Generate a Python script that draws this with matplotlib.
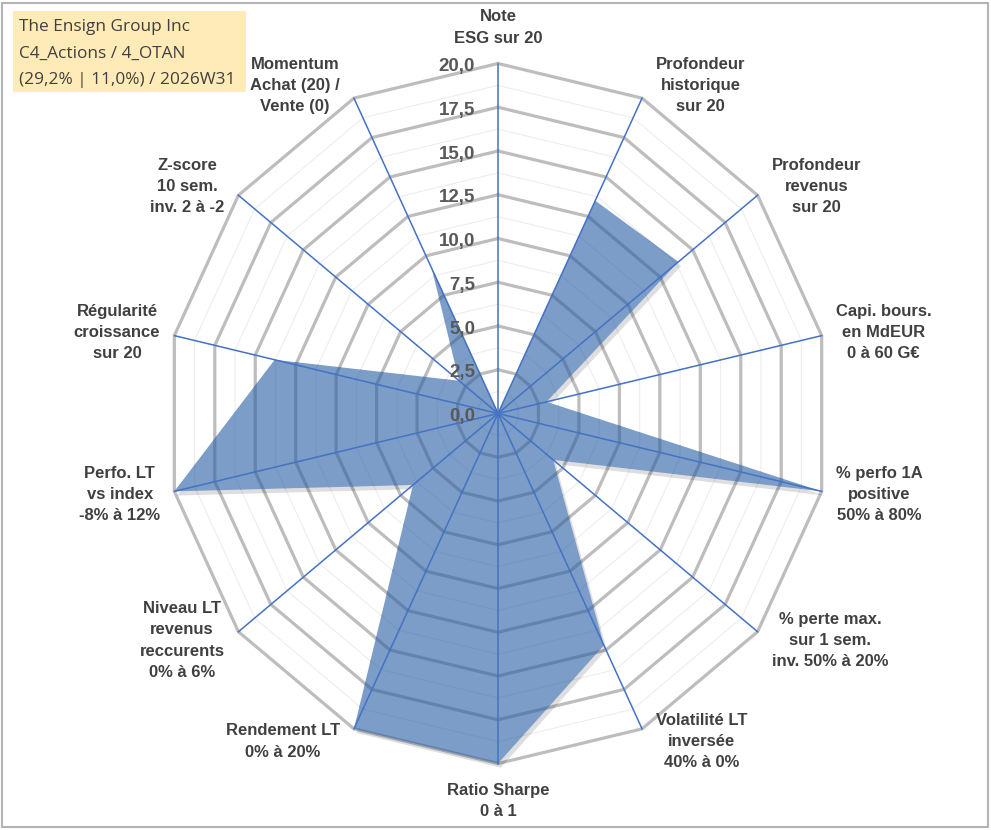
import numpy as np
import matplotlib
matplotlib.use("Agg")
import matplotlib.pyplot as plt
import matplotlib.patheffects as pe
from matplotlib.patches import Rectangle

# Chart data
categories = [
    "Note\nESG sur 20",
    "Profondeur\nhistorique\nsur 20",
    "Profondeur\nrevenus\nsur 20",
    "Capi. bours.\nen MdEUR\n0 à 60 G€",
    "% perfo 1A\npositive\n50% à 80%",
    "% perte max.\nsur 1 sem.\ninv. 50% à 20%",
    "Volatilité LT\ninversée\n40% à 0%",
    "Ratio Sharpe\n0 à 1",
    "Rendement LT\n0% à 20%",
    "Niveau LT\nrevenus\nreccurents\n0% à 6%",
    "Perfo. LT\nvs index\n-8% à 12%",
    "Régularité\ncroissance\nsur 20",
    "Z-score\n10 sem.\ninv. 2 à -2",
    "Momentum\nAchat (20) /\nVente (0)",
]
values = [0, 13.5, 13.9, 3.0, 20, 4.25, 14.7, 20, 20, 6.55, 20, 13.8, 3.0, 9.2]
tick_values = [0, 2.5, 5, 7.5, 10, 12.5, 15, 17.5, 20]
tick_labels = ["0,0", "2,5", "5,0", "7,5", "10,0", "12,5", "15,0", "17,5", "20,0"]
title_lines = ["The Ensign Group Inc", "C4_Actions / 4_OTAN", "(29,2% | 11,0%) / 2026W31"]
r_max = 20

# Layout (pixels)
W, H, DPI = 991, 830, 100
cx, cy = 498, 413.5
rx, ry = 332, 350
PT = 72 / DPI

fig = plt.figure(figsize=(W / DPI, H / DPI), dpi=DPI)
ax = fig.add_axes([0, 0, 1, 1])
ax.set_xlim((0 - cx) / rx * r_max, (W - cx) / rx * r_max)
ax.set_ylim((cy - H) / ry * r_max, cy / ry * r_max)
ax.axis("off")

n = len(categories)
theta = 2 * np.pi * np.arange(n) / n
s, c = np.sin(theta), np.cos(theta)
s_closed, c_closed = np.append(s, s[0]), np.append(c, c[0])

# data polygon (opaque, soft shadow)
v = np.array(values + values[:1])
poly = ax.fill(v * s_closed, v * c_closed, color="#7B9DC8", lw=0, zorder=2,
               path_effects=[pe.SimplePatchShadow(offset=(2, -3), shadow_rgbFace="k", alpha=0.13),
                             pe.Normal()])[0]

# grid rings: plain, then a darker copy clipped to the filled area
for k in range(1, 17):
    r = k * 1.25
    major = k % 2 == 0
    ax.plot(r * s_closed, r * c_closed,
            color="#BDBDBD" if major else "#EDEDED",
            lw=2.3 if major else 0.8, zorder=1, solid_joinstyle="miter")
    inner, = ax.plot(r * s_closed, r * c_closed,
                     color="#6383AD" if major else "#7596C0",
                     lw=2.3 if major else 0.8, zorder=2.5, solid_joinstyle="miter")
    inner.set_clip_path(poly)

# spokes
for i in range(n):
    ax.plot([0, r_max * s[i]], [0, r_max * c[i]], color="#4472C4", lw=1.1, zorder=3)

# radial tick labels
for tv, tl in zip(tick_values, tick_labels):
    ax.annotate(tl, xy=(0, tv), xytext=(-23 * PT, -3 * PT), textcoords="offset points",
                ha="right", va="center", fontsize=13.5, fontweight="bold",
                color="#595959", family=["Liberation Sans", "DejaVu Sans"], zorder=5)

# category labels
for i, lab in enumerate(categories):
    end = (r_max * s[i], r_max * c[i])
    if abs(s[i]) < 0.01:
        ha = "center"
        va = "bottom" if c[i] > 0 else "top"
        off = (0, 18 * PT if c[i] > 0 else -19 * PT)
    else:
        ha = "left" if s[i] > 0 else "right"
        va = "center"
        off = (np.sign(s[i]) * 14 * PT, 14 * c[i] * PT)
    ax.annotate(lab, xy=end, xytext=off, textcoords="offset points",
                ha=ha, va=va, multialignment="center", fontsize=12,
                fontweight="bold", color="#404040", linespacing=1.53,
                family=["Liberation Sans", "DejaVu Sans"], zorder=5)

# title box
fig.patches.append(Rectangle((13 / W, 1 - 92 / H), 233 / W, 81 / H,
                             transform=fig.transFigure, facecolor="#FFEBB8",
                             edgecolor="none", zorder=0))
for j, line in enumerate(title_lines):
    fig.text(19 / W, 1 - (27 + 26.5 * j) / H, line, ha="left", va="center",
             fontsize=12.4, color="#404040", family=["Open Sans", "DejaVu Sans"])

# outer border
fig.patches.append(Rectangle((2 / W, 3 / H), 986 / W, 824 / H,
                             transform=fig.transFigure, facecolor="none",
                             edgecolor="#B4B4B4", lw=1.5))

fig.savefig("out.png", dpi=DPI)
